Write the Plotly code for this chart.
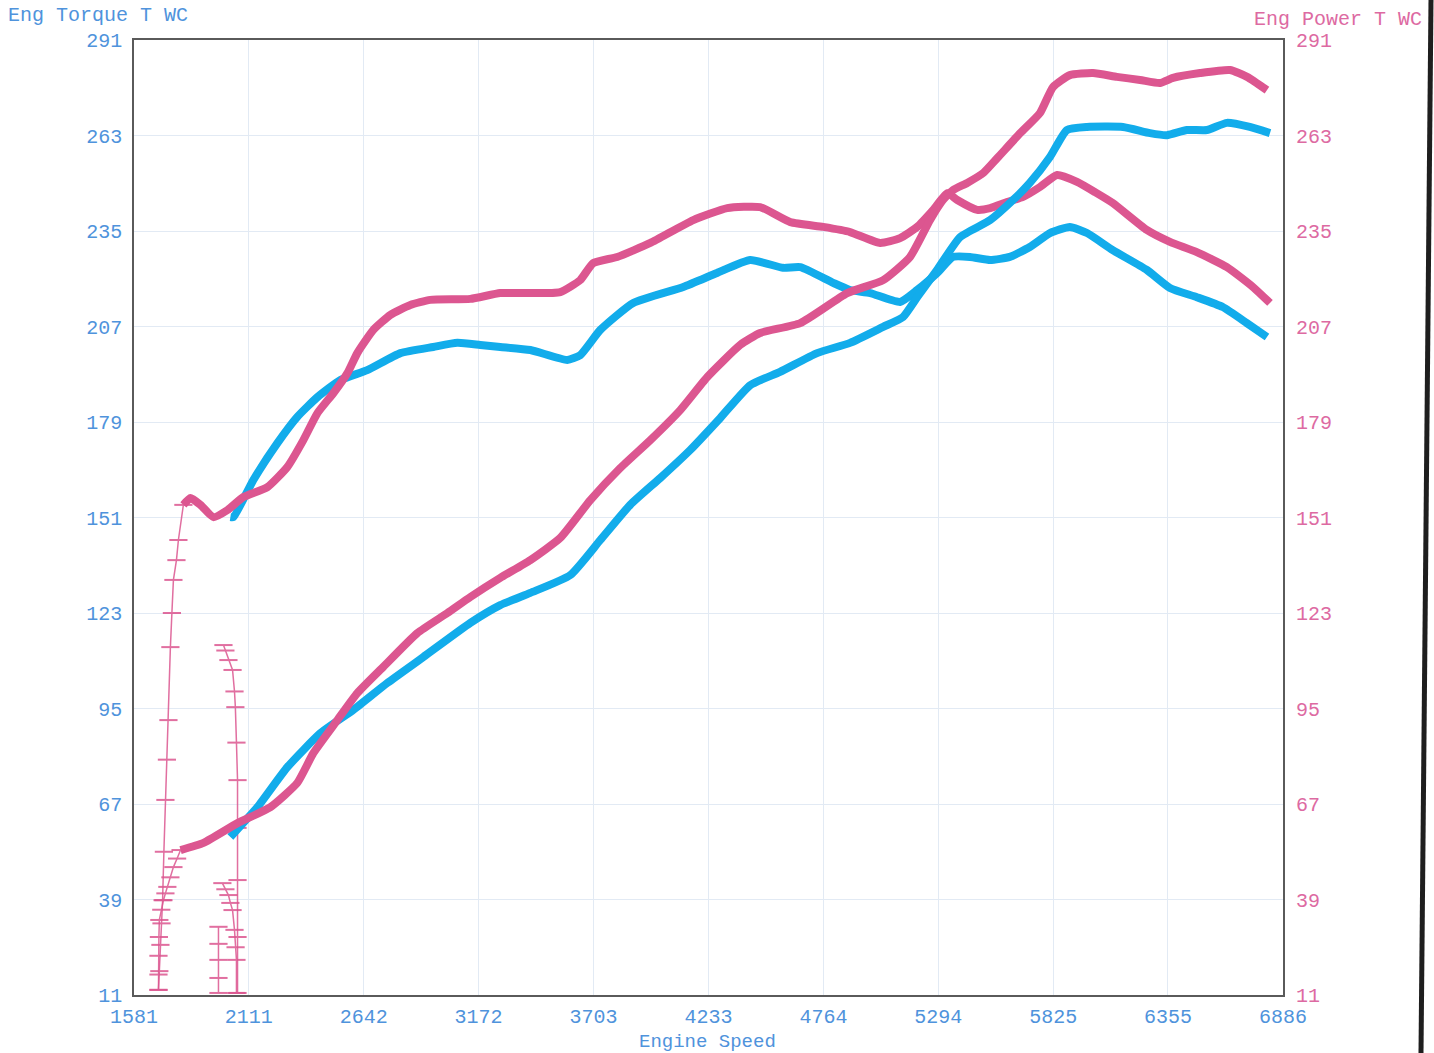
import plotly.graph_objects as go

# ---------------- data ----------------
x_ticks = [1581, 2111, 2642, 3172, 3703, 4233, 4764, 5294, 5825, 6355, 6886]
y_ticks = [11, 39, 67, 95, 123, 151, 179, 207, 235, 263, 291]

# pink run - torque (main)
pk_tq_rpm = [1809, 1842, 1888, 1948, 2013, 2086, 2197, 2289, 2363, 2428, 2502, 2567, 2612,
             2686, 2765, 2857, 2949, 3134, 3272, 3411, 3549, 3641, 3701, 3812, 3965, 4163,
             4320, 4472, 4611, 4763, 4887, 5026, 5118, 5197, 5271, 5336, 5382, 5474, 5534,
             5612, 5686, 5764, 5843, 5935, 6018, 6100, 6257, 6364, 6488, 6627, 6747, 6826]
pk_tq_val = [154.7, 156.7, 154.7, 151.1, 153.2, 157.0, 159.9, 165.8, 173.7, 181.6, 187.5, 193.4,
             199.2, 206.0, 210.4, 213.3, 214.8, 215.1, 216.8, 216.8, 217.1, 220.6, 225.6, 227.4,
             231.5, 238.2, 241.7, 242.0, 237.6, 236.2, 234.7, 231.5, 232.9, 236.2, 241.2, 246.1,
             244.1, 241.2, 241.7, 243.5, 245.0, 247.9, 251.4, 249.4, 246.4, 243.2, 235.3, 231.8,
             228.8, 224.4, 218.6, 213.9]

# pink run - torque start (noisy vertical part)
pk_tq0_rpm = [1694, 1698, 1703, 1708, 1713, 1719, 1726, 1733, 1740, 1749, 1756, 1763, 1777, 1786, 1809]
pk_tq0_val = [12.5, 18.0, 25.7, 32.0, 38.8, 53.0, 68.2, 80.0, 91.6, 113.0, 123.0, 132.7, 138.5, 144.4, 154.7]

# pink run - torque secondary trace near 2050 rpm
pk_tqb_rpm = [1994, 2003, 2017, 2036, 2045, 2049, 2054, 2059, 2059, 2059, 2059, 2059]
pk_tqb_val = [113.6, 112.0, 109.2, 106.3, 100.0, 95.4, 85.0, 74.0, 60.0, 44.7, 28.0, 11.6]

# pink run - power (main)
pk_pw_rpm = [1796, 1902, 2059, 2211, 2335, 2409, 2520, 2612, 2732, 2889, 3028, 3134, 3272,
             3411, 3549, 3688, 3826, 3965, 4103, 4228, 4380, 4472, 4657, 4874, 5040, 5164,
             5256, 5316, 5363, 5428, 5502, 5567, 5673, 5764, 5824, 5902, 6009, 6119, 6226,
             6318, 6378, 6503, 6641, 6720, 6812]
pk_pw_val = [53.5, 55.6, 61.4, 66.1, 73.2, 81.9, 91.6, 99.5, 107.2, 117.1, 123.0, 127.7, 133.3,
             138.5, 145.0, 156.1, 165.5, 173.7, 182.5, 192.2, 201.6, 205.1, 208.0, 216.8, 220.6,
             227.4, 238.2, 244.1, 247.0, 249.1, 252.0, 256.4, 263.7, 269.6, 277.2, 280.7, 281.3,
             280.2, 279.3, 278.4, 279.9, 281.3, 282.2, 280.2, 276.3]

# pink run - power start (noisy vertical part)
pk_pw0_rpm = [1694, 1694, 1694, 1696, 1698, 1707, 1717, 1726, 1735, 1749, 1763, 1780, 1796]
pk_pw0_val = [12.5, 17.0, 22.5, 28.0, 33.0, 36.0, 38.8, 40.8, 42.7, 45.5, 48.5, 51.0, 53.5]

# pink run - power secondary traces near 2000 rpm
pk_pwb_rpm = [1989, 2003, 2017, 2026, 2036, 2045, 2050, 2054, 2054]
pk_pwb_val = [43.8, 42.0, 40.3, 38.0, 35.9, 30.1, 25.0, 21.3, 11.6]
pk_pwc_rpm = [1971, 1971, 1971, 1971, 1971]
pk_pwc_val = [31.0, 26.0, 21.3, 16.0, 11.6]

# blue run - torque
bl_tq_rpm = [2026, 2040, 2132, 2243, 2335, 2428, 2534, 2658, 2811, 2963, 3074, 3180, 3272,
             3411, 3581, 3641, 3734, 3886, 4117, 4273, 4426, 4578, 4657, 4809, 4887, 4980,
             5118, 5197, 5289, 5363, 5441, 5534, 5625, 5717, 5810, 5902, 5981, 6100, 6257,
             6364, 6488, 6608, 6719, 6812]
bl_tq_val = [151.1, 151.1, 162.0, 172.8, 180.5, 186.3, 191.3, 194.2, 199.2, 201.0, 202.2, 201.6,
             201.0, 200.1, 197.2, 198.6, 206.0, 213.9, 218.6, 222.7, 226.5, 224.2, 224.4, 219.8,
             217.7, 216.8, 214.2, 217.7, 222.7, 227.4, 227.4, 226.5, 227.4, 230.3, 234.4, 236.2,
             234.4, 229.4, 223.6, 218.3, 215.6, 212.7, 208.0, 203.9]

# blue run - power
bl_pw_rpm = [2026, 2151, 2289, 2442, 2594, 2751, 2917, 3134, 3272, 3411, 3595, 3734, 3872,
             4011, 4149, 4288, 4426, 4564, 4735, 4887, 5040, 5132, 5197, 5289, 5395, 5534,
             5640, 5717, 5810, 5888, 5981, 6147, 6272, 6350, 6442, 6535, 6627, 6733, 6826]
bl_pw_val = [57.3, 66.1, 77.8, 87.8, 94.6, 102.5, 110.1, 120.1, 125.3, 128.9, 134.1, 144.4, 154.7,
             162.6, 170.8, 180.2, 189.8, 193.7, 199.2, 202.2, 206.9, 209.8, 215.6, 223.6, 233.2,
             238.2, 244.1, 249.1, 256.7, 264.6, 265.5, 265.5, 263.7, 263.1, 264.6, 264.6, 266.7,
             265.5, 263.7]

# ---------------- style ----------------
PINK = "#dc5690"
BLUE = "#12aceb"
LBLUE_TXT = "#4f93dc"
PINK_TXT = "#dd6aa2"
FONT = "Liberation Mono, Courier New, monospace"
LW = 8

fig = go.Figure()

main_line = lambda c: dict(color=c, width=LW, shape="spline", smoothing=0.5)

# blue first (pink drawn on top)
fig.add_trace(go.Scatter(x=bl_pw_rpm, y=bl_pw_val, mode="lines", yaxis="y2",
                         line=main_line(BLUE), name="Blue power"))
fig.add_trace(go.Scatter(x=bl_tq_rpm, y=bl_tq_val, mode="lines",
                         line=main_line(BLUE), name="Blue torque"))

thin = dict(color=PINK, width=1.5)
mk = dict(symbol="line-ew-open", size=13, color=PINK, line=dict(color=PINK, width=2))
for xs, ys, ax in [(pk_tq0_rpm, pk_tq0_val, "y"), (pk_tqb_rpm, pk_tqb_val, "y"),
                   (pk_pw0_rpm, pk_pw0_val, "y2"), (pk_pwb_rpm, pk_pwb_val, "y2"),
                   (pk_pwc_rpm, pk_pwc_val, "y2")]:
    fig.add_trace(go.Scatter(x=xs, y=ys, mode="lines+markers", yaxis=ax,
                             line=thin, marker=mk, opacity=0.85))

fig.add_trace(go.Scatter(x=pk_pw_rpm, y=pk_pw_val, mode="lines", yaxis="y2",
                         line=main_line(PINK), name="Pink power"))
fig.add_trace(go.Scatter(x=pk_tq_rpm, y=pk_tq_val, mode="lines",
                         line=main_line(PINK), name="Pink torque"))

L, R, T, B = 134, 151, 40, 58
W, H = 1434 - L - R, 1053 - T - B

def px(x):
    return (x - L) / W

def py(y):
    return (1053 - B - y) / H

grid = "#e2eaf4"
fig.update_layout(
    width=1434, height=1053,
    margin=dict(l=L, r=R, t=T, b=B, autoexpand=False),
    paper_bgcolor="white", plot_bgcolor="white",
    showlegend=False,
    font=dict(family=FONT, size=20, color=LBLUE_TXT),
    xaxis=dict(range=[1581, 6886], tickvals=x_ticks, ticktext=[str(v) for v in x_ticks],
               showgrid=True, gridcolor=grid, gridwidth=1, zeroline=False,
               showline=True, linecolor="#5a5a5a", linewidth=1.5, mirror=True,
               ticks="", ticklabelstandoff=2,
               tickfont=dict(family=FONT, size=20, color=LBLUE_TXT)),
    yaxis=dict(range=[11, 291], tickvals=y_ticks, ticktext=[str(v) for v in y_ticks],
               showgrid=True, gridcolor=grid, gridwidth=1, zeroline=False,
               showline=True, linecolor="#5a5a5a", linewidth=1.5, mirror=True,
               ticks="", ticklabelstandoff=6,
               tickfont=dict(family=FONT, size=20, color=LBLUE_TXT)),
    yaxis2=dict(range=[11, 291], tickvals=y_ticks, ticktext=[str(v) for v in y_ticks],
                overlaying="y", side="right", showgrid=False, zeroline=False,
                showline=False, ticks="", ticklabelstandoff=12,
                tickfont=dict(family=FONT, size=20, color=PINK_TXT)),
    annotations=[
        dict(text="Eng Torque T WC", xref="paper", yref="paper", x=px(6), y=py(15),
             xanchor="left", yanchor="middle", showarrow=False,
             font=dict(family=FONT, size=20, color=LBLUE_TXT)),
        dict(text="Eng Power T WC", xref="paper", yref="paper", x=px(1424), y=py(20),
             xanchor="right", yanchor="middle", showarrow=False,
             font=dict(family=FONT, size=20, color=PINK_TXT)),
        dict(text="Engine Speed", xref="paper", yref="paper", x=px(707), y=py(1042),
             xanchor="center", yanchor="middle", showarrow=False,
             font=dict(family=FONT, size=19, color=LBLUE_TXT)),
    ],
    shapes=[
        dict(type="line", xref="paper", yref="paper", x0=px(1431), y0=py(0),
             x1=px(1421), y1=py(1053), line=dict(color="#1e1e1e", width=5)),
    ],
)

fig.write_html("out.html",
               config={"displayModeBar": False},
               post_script="document.body.style.margin='0';"
                           "document.body.style.padding='0';"
                           "document.body.style.overflow='hidden';")
